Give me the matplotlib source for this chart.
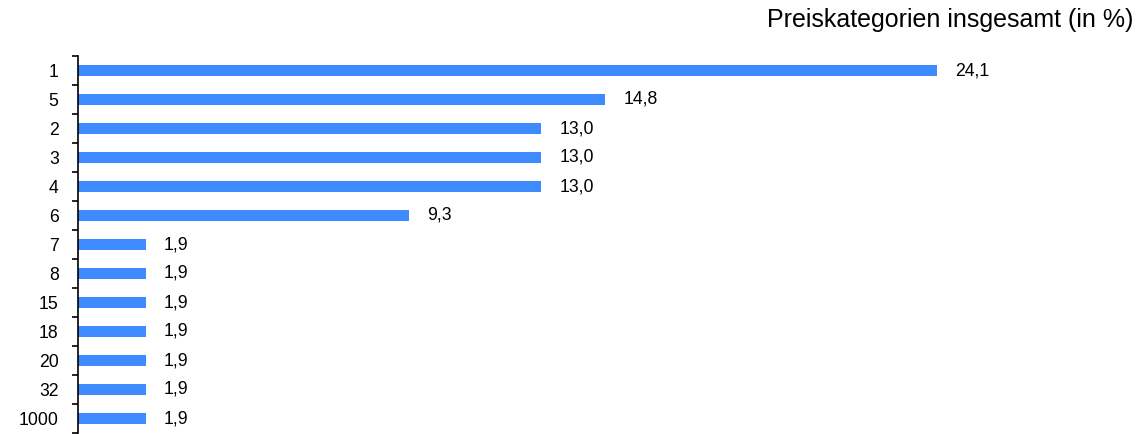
import matplotlib.pyplot as plt
import numpy as np

plt.rcParams['font.family'] = ['Liberation Sans', 'DejaVu Sans']

# Preiskategorien und Anteile (in %)
categories = ['1', '5', '2', '3', '4', '6', '7', '8', '15', '18', '20', '32', '1000']
values = [24.1, 14.8, 13.0, 13.0, 13.0, 9.3, 1.9, 1.9, 1.9, 1.9, 1.9, 1.9, 1.9]
value_labels = ['24,1', '14,8', '13,0', '13,0', '13,0', '9,3', '1,9', '1,9', '1,9', '1,9', '1,9', '1,9', '1,9']

W, H = 1140, 434
fig = plt.figure(figsize=(W / 100, H / 100), dpi=100)
left, right, top, bottom = 78, 1140, 56, 433
ax = fig.add_axes([left / W, (H - bottom) / H, (right - left) / W, (bottom - top) / H])

y = np.arange(len(categories))
ax.barh(y, values, height=0.35, color='#3d8bff')
ax.set_ylim(len(categories) - 0.5, -0.5)
ax.set_xlim(0, (right - left) / 35.64)

for yi, v, lab in zip(y, values, value_labels):
    ax.annotate(lab, (v, yi), xytext=(13, 0), textcoords='offset points',
                va='center', ha='left', fontsize=12.7)

ax.set_yticks(y)
ax.set_yticklabels(categories, fontsize=12.7)
ax.set_yticks(np.arange(len(categories) + 1) - 0.5, minor=True)
ax.tick_params(axis='y', which='major', length=0, pad=14)
ax.tick_params(axis='y', which='minor', length=4.3, width=1.2, direction='out')
ax.set_xticks([])
for s in ['top', 'right', 'bottom']:
    ax.spines[s].set_visible(False)
ax.spines['left'].set_linewidth(1.2)

fig.text(1133 / W, 1 - 27.5 / H, 'Preiskategorien insgesamt (in %)', ha='right', va='baseline', fontsize=18)

fig.savefig('out.png', dpi=100)
